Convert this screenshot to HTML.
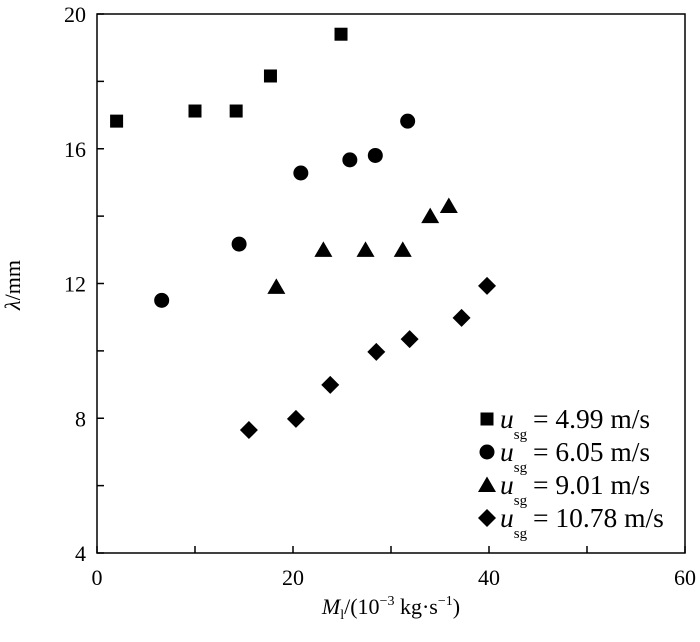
<!DOCTYPE html>
<html><head><meta charset="utf-8"><style>
body{margin:0;background:#fff}
svg{display:block;font-family:"Liberation Serif",serif}
</style></head><body>
<svg id="chart" width="700" height="642" viewBox="0 0 700 642">
<rect x="97" y="14" width="588" height="539" fill="none" stroke="#000" stroke-width="1.5"/>
<g id="axes"></g>
<g id="marks"></g>
<text x="20" y="285" font-size="22" transform="rotate(-90 20 285)" text-anchor="middle"><tspan font-style="italic">λ</tspan>/mm</text>
<text x="391" y="614" font-size="22" text-anchor="middle"><tspan font-style="italic">M</tspan><tspan font-size="14" dy="5">l</tspan><tspan dy="-5">/(10</tspan><tspan font-size="14" dy="-9">−3</tspan><tspan dy="9"> kg·s</tspan><tspan font-size="14" dy="-9">−1</tspan><tspan dy="9">)</tspan></text>
<g id="legend"></g>
</svg>
<script>
const xTicks=[0,10,20,30,40,50,60];
const xTickLabels=[0,20,40,60];
const yTicks=[4,6,8,10,12,14,16,18,20];
const yTickLabels=[4,8,12,16,20];
const seriesLabels=["4.99 m/s","6.05 m/s","9.01 m/s","10.78 m/s"];
const shapes=["square","circle","triangle","diamond"];
const s1x=[2.0,10.0,14.2,17.7,24.9];
const s1y=[16.82,17.12,17.12,18.16,19.4];
const s2x=[6.6,14.5,20.8,25.8,28.4,31.7];
const s2y=[11.5,13.17,15.28,15.67,15.8,16.82];
const s3x=[18.3,23.1,27.4,31.2,34.0,35.9];
const s3y=[11.9,13.0,13.0,13.0,14.0,14.3];
const s4x=[15.5,20.3,23.8,28.5,31.9,37.2,39.8];
const s4y=[7.65,7.98,8.99,9.97,10.35,10.98,11.93];
const NS="http://www.w3.org/2000/svg";
const X=v=>97+v*588/60, Y=v=>553-(v-4)*539/16;
function mk(t,a,p){const e=document.createElementNS(NS,t);for(const k in a)e.setAttribute(k,a[k]);p.appendChild(e);return e;}
const ax=document.getElementById('axes');
xTicks.forEach(t=>{
 const l=mk('line',{x1:X(t),x2:X(t),y1:553,y2:546,stroke:'#000','stroke-width':1.5},ax);
 
 
});
xTickLabels.forEach(t=>{
 const tx=mk('text',{x:X(t),y:585,'font-size':22,'text-anchor':'middle'},ax);tx.textContent=t;
 
 
});
yTicks.forEach(t=>{
 const l=mk('line',{x1:97,x2:104,y1:Y(t),y2:Y(t),stroke:'#000','stroke-width':1.5},ax);
 
 
});
yTickLabels.forEach(t=>{
 const tx=mk('text',{x:86,y:Y(t)+8,'font-size':22,'text-anchor':'end'},ax);tx.textContent=t;
 
 
});
function marker(shape,cx,cy,p){
 if(shape==='square')return mk('rect',{x:cx-6.5,y:cy-6.5,width:13,height:13,fill:'#000'},p);
 if(shape==='circle')return mk('circle',{cx:cx,cy:cy,r:7.5,fill:'#000'},p);
 if(shape==='triangle')return mk('polygon',{points:`${cx},${cy-8.5} ${cx+9},${cy+7} ${cx-9},${cy+7}`,fill:'#000'},p);
 return mk('polygon',{points:`${cx},${cy-9} ${cx+9},${cy} ${cx},${cy+9} ${cx-9},${cy}`,fill:'#000'},p);
}
const m=document.getElementById('marks');
[[s1x,s1y],[s2x,s2y],[s3x,s3y],[s4x,s4y]].forEach((s,i)=>{
 s[0].forEach((v,j)=>{
  const e=marker(shapes[i],X(v),Y(s[1][j]),m);
  
  
 });
});
const lg=document.getElementById('legend');
seriesLabels.forEach((lab,i)=>{
 const y=419+i*33;
 const e=marker(shapes[i],487,y,lg);
 
 
 const t=mk('text',{x:500,y:y+9,'font-size':27.5},lg);
 
 
 t.innerHTML='<tspan font-style="italic">u</tspan><tspan font-size="15" dy="11">sg</tspan><tspan dy="-11" x="533">= '+lab+'</tspan>';
});
</script>
</body></html>
